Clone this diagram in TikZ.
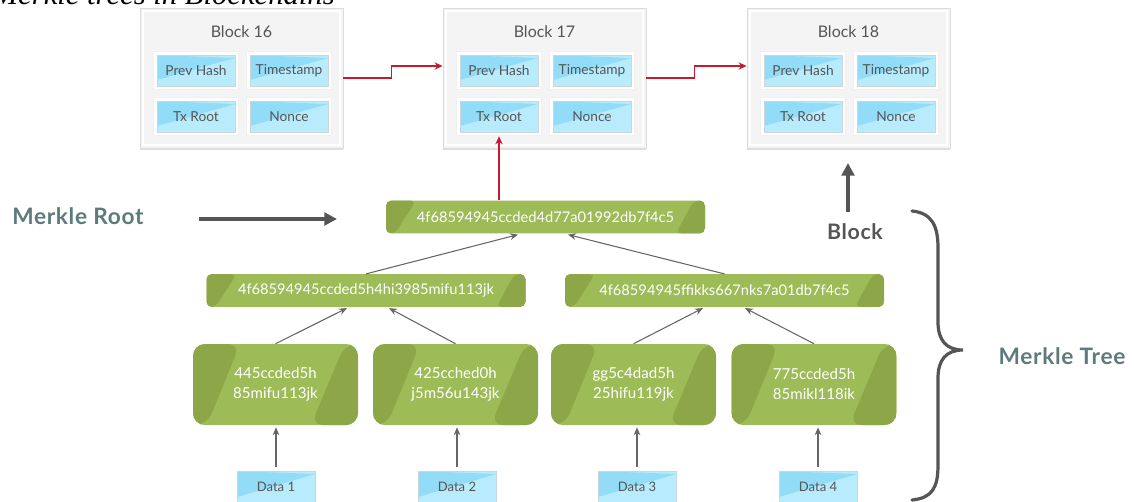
\documentclass[tikz,border=0pt]{standalone}
\usepackage{fontspec}
\setmainfont{Lato}
\newfontfamily\capfont{Liberation Serif}
\newfontfamily\labfont[LetterSpace=3]{Lato}
\usetikzlibrary{arrows.meta,calc,shadows}

\definecolor{grnL}{HTML}{9DBB57}
\definecolor{grnD}{HTML}{8DA648}
\definecolor{bluL}{HTML}{B8ECFC}
\definecolor{bluD}{HTML}{92DCF8}
\definecolor{bluB}{HTML}{C9D7DD}
\definecolor{txtG}{HTML}{555555}
\definecolor{blkF}{HTML}{F4F4F4}
\definecolor{blkB}{HTML}{DCDCDC}
\definecolor{redA}{HTML}{C8192E}
\definecolor{arrG}{HTML}{666666}
\definecolor{labT}{HTML}{5E7B7C}

\tikzset{
  blockbox/.style={draw=blkB, fill=blkF, line width=0.6pt, inner sep=0,
    minimum width=152.25pt, minimum height=105pt,
    drop shadow={shadow xshift=0pt, shadow yshift=-1.2pt, fill=black, opacity=0.12},
    path picture={\draw[white,line width=1pt]
      ($(path picture bounding box.south west)+(3,-3)$) rectangle
      ($(path picture bounding box.north east)+(-3,3)$);}},
  blocktitle/.style={text=txtG, inner sep=0, font=\fontsize{12}{14}\selectfont},
  cellframe/.style={fill=white, draw=black!6, line width=0.4pt, inner sep=0,
    minimum width=63.75pt, minimum height=28.5pt},
  cell/.style={fill=bluL, draw=bluB, line width=0.5pt, inner sep=0,
    minimum width=58.5pt, minimum height=23.25pt, text=txtG,
    font=\fontsize{10.3}{12}\selectfont,
    path picture={\fill[bluD] (path picture bounding box.north west) --
      ($(path picture bounding box.north east)+(0,3)$) --
      ($(path picture bounding box.south west)+(0,-6)$) -- cycle;}},
  datacell/.style={cell, minimum height=24pt, font=\fontsize{9.8}{11}\selectfont},
  greenbox/.style n args={4}{fill=grnL, text=white, inner sep=0,
    path picture={
      \fill[grnD] (path picture bounding box.south west) -- ++(#1,0) --
        ($(path picture bounding box.north west)+(#2,0)$) --
        (path picture bounding box.north west) -- cycle;
      \fill[grnD] (path picture bounding box.north east) -- ++(-#3,0) --
        ($(path picture bounding box.south east)+(-#4,0)$) --
        (path picture bounding box.south east) -- cycle;}},
  hashbar/.style={greenbox={9}{30}{11}{29}, rounded corners=3.75pt,
    minimum width=239.25pt, minimum height=24.5pt,
    font=\fontsize{11}{13}\selectfont},
  leafbox/.style={greenbox={14}{47}{13}{47}, rounded corners=9pt,
    minimum width=123.75pt, minimum height=60.75pt, align=center,
    font=\fontsize{11.3}{15}\selectfont},
  redarr/.style={draw=redA, line width=0.9pt, -{Stealth[length=6pt,width=5.5pt]}},
  grayarr/.style={draw=arrG, line width=0.8pt, -{Stealth[length=6pt,width=5pt]}},
  thickarr/.style={draw=txtG, line width=3pt, -{Triangle[length=9.5pt,width=9.5pt]}},
  biglabel/.style={inner sep=0, font=\labfont\fontsize{17}{20}\selectfont\bfseries},
}

\begin{document}
\begin{tikzpicture}[x=0.75pt,y=-0.75pt]
\useasboundingbox (0,0) rectangle (1134,501);

% caption (cropped at top, as in the reference)
\node[anchor=base east, inner sep=0, font=\capfont\itshape\fontsize{23}{26}\selectfont]
  (cap) at (335,4.5) {Merkle trees in Blockchains};

% blocks
\foreach \n/\x in {16/140,17/443,18/747}{
  \node[blockbox] (b\n) at (\x+101.5,78) {};
  \node[blocktitle] (t\n) at (\x+101.5,32) {Block \n};
  \node[cellframe] (fp\n) at (\x+56,70.5) {};
  \node[cellframe] (fs\n) at (\x+149,70.5) {};
  \node[cellframe] (fr\n) at (\x+56,116.5) {};
  \node[cellframe] (fn\n) at (\x+149,116.5) {};
  \node[cell] (p\n) at (\x+56,70.5) {Prev Hash};
  \node[cell] (s\n) at (\x+149,70.5) {Timestamp};
  \node[cell] (tx\n) at (\x+56,116.5) {Tx Root};
  \node[cell] (nc\n) at (\x+149,116.5) {Nonce};
}

% chain arrows
\draw[redarr] (b16.east) -- ++(48,0) |- ($(b17.west)+(0,-12)$);
\draw[redarr] (b17.east) -- ++(48,0) |- ($(b18.west)+(0,-12)$);

% merkle tree
\node[hashbar] (root) at (545.5,217) {4f68594945ccded4d77a01992db7f4c5};
\node[hashbar] (l2a) at (366,290.5) {4f68594945ccded5h4hi3985mifu113jk};
\node[hashbar] (l2b) at (724.5,290.5) {4f68594945f{}fikks667nks7a01db7f4c5};

\node[leafbox] (l3a) at (275.5,384.5) {445ccded5h\\85mifu113jk};
\node[leafbox] (l3b) at (455.5,384.5) {425cched0h\\j5m56u143jk};
\node[leafbox] (l3c) at (633.5,384.5) {gg5c4dad5h\\25hifu119jk};
\node[leafbox] (l3d) at (814,384.5) {775ccded5h\\85mikl118ik};

\node[datacell] (d1) at (276,487) {Data 1};
\node[datacell] (d2) at (457,487) {Data 2};
\node[datacell] (d3) at (637,487) {Data 3};
\node[datacell] (d4) at (818,487) {Data 4};

\draw[redarr] (root.north -| tx17) -- ([yshift=-3pt]tx17.south);

\draw[grayarr] (l2a.north) -- ($(root.south)+(-27.5,1)$);
\draw[grayarr] (l2b.north) -- ($(root.south)+(22.5,1)$);
\draw[grayarr] (l3a.north) -- ($(l2a.south)+(-19,1)$);
\draw[grayarr] (l3b.north) -- ($(l2a.south)+(23,1)$);
\draw[grayarr] (l3c.north) -- ($(l2b.south)+(-21.5,1)$);
\draw[grayarr] (l3d.north) -- ($(l2b.south)+(20.5,1)$);
\foreach \d/\l in {d1/l3a,d2/l3b,d3/l3c,d4/l3d}{
  \draw[grayarr, shorten <=3pt, shorten >=1.5pt] (\d.north) -- (\d.north |- \l.south);
}

% labels
\node[biglabel, anchor=west, text=labT] (mrl) at (12,216) {Merkle Root};
\coordinate (mra) at (199,219);
\coordinate (mrb) at (337,219);
\draw[thickarr] (mra) -- (mrb);

\node[biglabel, text=txtG, font=\labfont\fontsize{16}{19}\selectfont\bfseries] (blk) at (855,232) {Block};
\coordinate (bka) at (848,212);
\coordinate (bkb) at (848,163);
\draw[thickarr] (bka) -- (bkb);

\node[biglabel, text=labT] (mtl) at (1062,356) {Merkle Tree};

% brace
\draw[draw=txtG, line width=2.4pt, line cap=round]
  (912,211) .. controls (932,213) and (938,226) .. (938,248)
  -- (938,322) .. controls (938,340) and (946,350) .. (963,350)
  .. controls (946,350) and (938,360) .. (938,378)
  -- (938,465) .. controls (938,488) and (932,498) .. (912,500);
\end{tikzpicture}
\end{document}
